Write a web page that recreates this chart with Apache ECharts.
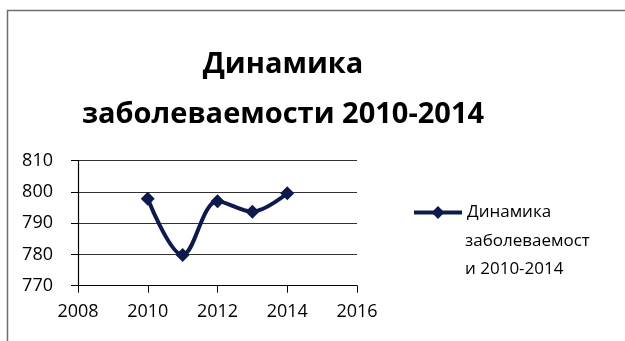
<!DOCTYPE html>
<html>
<head>
<meta charset="utf-8">
<script src="https://cdn.jsdelivr.net/npm/echarts@6/dist/echarts.min.js"></script>
<style>
  html, body { margin: 0; padding: 0; background: #fff; }
  #chart { width: 625px; height: 341px; }
</style>
</head>
<body>
<div id="chart"></div>
<script>
// Заболеваемость по годам
const years = [2010, 2011, 2012, 2013, 2014];
const values = [797.8, 779.8, 797.0, 793.7, 799.6];
const seriesName = 'Динамика заболеваемости 2010-2014';
const legendLines = ['Динамика', 'заболеваемост', 'и 2010-2014'];
const titleText = 'Динамика\nзаболеваемости 2010-2014';

const font = '"Open Sans", "Noto Sans", sans-serif';
const navy = '#0e1a4b';

const chart = echarts.init(document.getElementById('chart'), null, { renderer: 'canvas' });

chart.setOption({
  animation: false,
  backgroundColor: '#fff',
  title: {
    text: titleText,
    left: 278,
    top: 35,
    textAlign: 'center',
    textStyle: {
      fontFamily: font,
      fontWeight: 'bold',
      fontSize: 29,
      lineHeight: 50,
      color: '#000'
    }
  },
  graphic: [{
    type: 'rect',
    shape: { x: 7.5, y: 10.5, width: 640, height: 360 },
    style: { fill: 'none', stroke: '#6e6e6e', lineWidth: 1.5 },
    silent: true
  }, {
    // continuation of the wrapped legend label
    type: 'text',
    left: 465,
    top: 227,
    style: {
      text: legendLines.slice(1).join('\n'),
      fontFamily: font,
      fontSize: 17,
      lineHeight: 28,
      fill: '#000'
    },
    silent: true
  }],
  legend: {
    left: 412,
    top: 204,
    padding: 0,
    itemWidth: 48,
    itemHeight: 16,
    formatter: () => legendLines[0],
    lineStyle: { width: 4 },
    textStyle: {
      fontFamily: font,
      fontSize: 17,
      color: '#000'
    },
    data: [seriesName]
  },
  grid: { left: 78, right: 268, top: 160.7, bottom: 55.3, containLabel: false },
  xAxis: {
    type: 'value',
    min: 2008,
    max: 2016,
    interval: 2,
    axisLine: { show: true, lineStyle: { color: '#000', width: 1.2 } },
    axisTick: { show: true, length: 7, lineStyle: { color: '#000' } },
    axisLabel: {
      fontFamily: font, fontSize: 18, color: '#000', margin: 17,
      formatter: (v) => String(v)
    },
    splitLine: { show: false }
  },
  yAxis: {
    type: 'value',
    min: 770,
    max: 810,
    interval: 10,
    axisLine: { show: true, lineStyle: { color: '#000', width: 1.2 } },
    axisTick: { show: true, length: 7, lineStyle: { color: '#000' } },
    axisLabel: {
      fontFamily: font, fontSize: 18, color: '#000', margin: 25
    },
    splitLine: { show: true, lineStyle: { color: '#333', width: 1 } }
  },
  series: [{
    name: seriesName,
    type: 'line',
    smooth: 0.35,
    data: years.map((y, i) => [y, values[i]]),
    symbol: 'diamond',
    symbolSize: 14,
    lineStyle: { color: navy, width: 4 },
    itemStyle: { color: navy },
    z: 3
  }]
});
</script>
</body>
</html>
